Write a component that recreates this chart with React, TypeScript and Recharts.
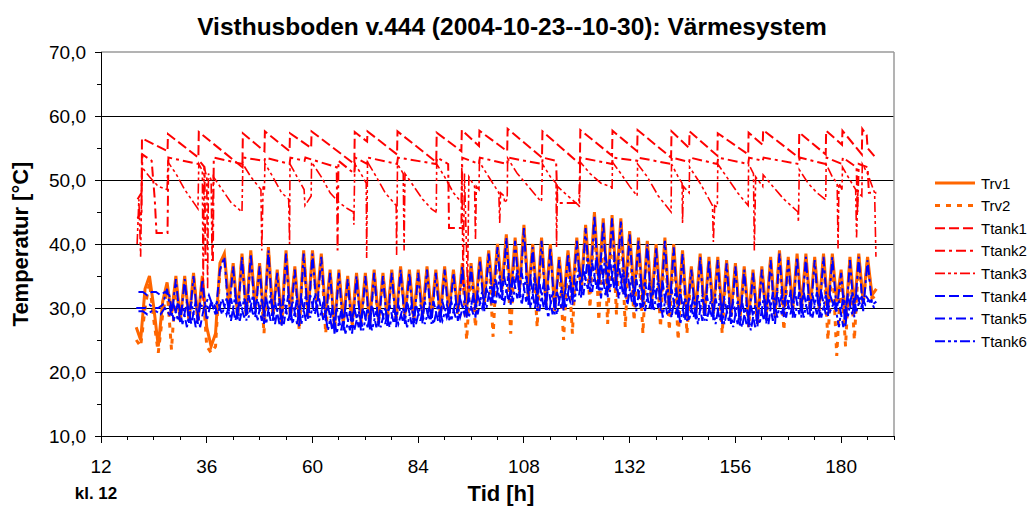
import React from 'react';
import { LineChart, Line, XAxis, YAxis, ReferenceLine } from 'recharts';

const FONT = '"Liberation Sans", Arial, Helvetica, sans-serif';

// ---------- axis ticks ----------
const X_TICKS = [12, 18, 24, 30, 36, 42, 48, 54, 60, 66, 72, 78, 84, 90, 96, 102, 108, 114, 120, 126, 132, 138, 144, 150, 156, 162, 168, 174, 180, 186, 192];
const X_LABELS = [12, 36, 60, 84, 108, 132, 156, 180];
const Y_TICKS = [10, 15, 20, 25, 30, 35, 40, 45, 50, 55, 60, 65, 70];
const Y_LABELS = [10, 20, 30, 40, 50, 60, 70];
const GRID_VALUES = [20, 30, 40, 50, 60];

// ---------- time categories (hours) ----------
const HOURS = [
  20, 21, 22, 23, 24, 25, 26, 27, 28, 29,
  30, 31, 32, 33, 34, 35, 36, 37, 38, 39,
  40, 41, 42, 43, 44, 45, 46, 47, 48, 49,
  50, 51, 52, 53, 54, 55, 56, 57, 58, 59,
  60, 61, 62, 63, 64, 65, 66, 67, 68, 69,
  70, 71, 72, 73, 74, 75, 76, 77, 78, 79,
  80, 81, 82, 83, 84, 85, 86, 87, 88, 89,
  90, 91, 92, 93, 94, 95, 96, 97, 98, 99,
  100, 101, 102, 103, 104, 105, 106, 107, 108, 109,
  110, 111, 112, 113, 114, 115, 116, 117, 118, 119,
  120, 121, 122, 123, 124, 125, 126, 127, 128, 129,
  130, 131, 132, 133, 134, 135, 136, 137, 138, 139,
  140, 141, 142, 143, 144, 145, 146, 147, 148, 149,
  150, 151, 152, 153, 154, 155, 156, 157, 158, 159,
  160, 161, 162, 163, 164, 165, 166, 167, 168, 169,
  170, 171, 172, 173, 174, 175, 176, 177, 178, 179,
  180, 181, 182, 183, 184, 185, 186, 187, 188,
];
const HALF_HOURS = [
  20.5, 21.5, 22.5, 23.5, 24.5, 25.5, 26.5, 27.5, 28.5, 29.5,
  30.5, 31.5, 32.5, 33.5, 34.5, 35.5, 36.5, 37.5, 38.5, 39.5,
  40.5, 41.5, 42.5, 43.5, 44.5, 45.5, 46.5, 47.5, 48.5, 49.5,
  50.5, 51.5, 52.5, 53.5, 54.5, 55.5, 56.5, 57.5, 58.5, 59.5,
  60.5, 61.5, 62.5, 63.5, 64.5, 65.5, 66.5, 67.5, 68.5, 69.5,
  70.5, 71.5, 72.5, 73.5, 74.5, 75.5, 76.5, 77.5, 78.5, 79.5,
  80.5, 81.5, 82.5, 83.5, 84.5, 85.5, 86.5, 87.5, 88.5, 89.5,
  90.5, 91.5, 92.5, 93.5, 94.5, 95.5, 96.5, 97.5, 98.5, 99.5,
  100.5, 101.5, 102.5, 103.5, 104.5, 105.5, 106.5, 107.5, 108.5, 109.5,
  110.5, 111.5, 112.5, 113.5, 114.5, 115.5, 116.5, 117.5, 118.5, 119.5,
  120.5, 121.5, 122.5, 123.5, 124.5, 125.5, 126.5, 127.5, 128.5, 129.5,
  130.5, 131.5, 132.5, 133.5, 134.5, 135.5, 136.5, 137.5, 138.5, 139.5,
  140.5, 141.5, 142.5, 143.5, 144.5, 145.5, 146.5, 147.5, 148.5, 149.5,
  150.5, 151.5, 152.5, 153.5, 154.5, 155.5, 156.5, 157.5, 158.5, 159.5,
  160.5, 161.5, 162.5, 163.5, 164.5, 165.5, 166.5, 167.5, 168.5, 169.5,
  170.5, 171.5, 172.5, 173.5, 174.5, 175.5, 176.5, 177.5, 178.5, 179.5,
  180.5, 181.5, 182.5, 183.5, 184.5, 185.5, 186.5, 187.5,
];

// ---------- series values ----------
const TRV1 = [
  27, 25, 33, 35, 30, 24, 31, 34, 29, 35,
  28, 35, 28, 35.5, 28, 35, 27, 24, 26, 37,
  38.5, 31, 37, 29, 38.5, 29, 39, 30, 37, 28,
  39.5, 29, 36, 28, 39, 29, 36.5, 28, 39, 29,
  39, 31, 38.5, 29, 36, 27, 36, 28, 35, 27.5,
  35.5, 28, 35.5, 28, 36, 28, 35.5, 28.5, 36, 28.5,
  36.5, 29, 36, 28.5, 36, 29, 36.5, 29, 36, 29,
  36.5, 29.5, 36, 29.5, 37, 30, 37, 30, 38, 31,
  39, 32, 40, 33, 41.5, 32, 41, 33, 43, 32,
  40, 31, 41, 31, 40, 30, 38, 31, 39, 32,
  41, 33, 43, 34, 45, 34, 44, 33, 44.5, 34,
  44, 33, 42, 32, 41, 31, 40.5, 31, 40, 31,
  41, 30, 40, 30, 39, 29, 36.5, 29.5, 38.5, 29,
  38, 29.5, 38, 29, 37.5, 29, 37, 28.5, 36.5, 28.5,
  36, 28, 36.5, 29, 38, 29, 39, 30, 38, 30,
  38.5, 30, 38.5, 30, 38, 30, 38.5, 30, 38.5, 31,
  36, 28, 38, 30, 38.5, 31, 38, 32, 33,
];
const TRV2 = [
  25, 24, 30, 34, 28, 23, 29, 33, 23.5, 34,
  28, 34.5, 28, 35, 28, 34.5, 24, 23, 24, 36,
  38, 30, 36.5, 28.5, 38, 28.5, 38.5, 29.5, 36.5, 26,
  39, 28.5, 35.5, 27.5, 38.5, 28.5, 36, 26.5, 38.5, 28.5,
  38.5, 30, 38, 26, 35.5, 26.5, 35.5, 27.5, 34.5, 27,
  35, 27.5, 35, 27.5, 35.5, 27.5, 35, 28, 35.5, 28,
  36, 28.5, 35.5, 28, 35.5, 28.5, 36, 28.5, 35.5, 28.5,
  36, 29, 35.5, 29, 36.5, 25, 36.5, 27, 37.5, 30.5,
  38.5, 25.5, 39.5, 32.5, 41, 26, 40.5, 32.5, 42.5, 31.5,
  39.5, 27, 40.5, 30.5, 39.5, 29.5, 37.5, 25, 38.5, 26,
  40.5, 32.5, 42.5, 30, 44.5, 28, 43.5, 27.5, 44, 29,
  43.5, 27, 41.5, 28, 40.5, 26, 40, 30.5, 39.5, 27,
  40.5, 26.5, 39.5, 25, 38.5, 26, 36, 29, 38, 28.5,
  37.5, 29, 37.5, 26, 37, 28.5, 36.5, 28, 36, 27,
  35.5, 27.5, 36, 28.5, 37.5, 28.5, 38.5, 26.5, 37.5, 29.5,
  38, 29.5, 38, 29.5, 37.5, 29.5, 38, 25, 38, 22.5,
  35.5, 24, 37.5, 25, 38, 30.5, 37.5, 31.5, 32,
];
const TTANK4 = [
  32.5, 32.5, 32, 32.5, 32.5, 32, 32.5, 32, 28, 31,
  27.5, 31, 27.5, 31, 27, 30.5, 30, 31, 29, 31.5,
  29, 31.5, 28, 31, 28.5, 32, 29, 31.5, 28, 31.5,
  28, 31, 27.5, 31.5, 28, 31, 27.5, 31.5, 28, 32,
  29, 31.5, 28, 30.5, 26.5, 30, 26.5, 30, 26.5, 30,
  27, 30, 27, 30.5, 27, 30, 27.5, 30.5, 27.5, 30.5,
  28, 31, 27.5, 30.5, 28, 31, 28, 31, 28, 31,
  28.5, 31, 28.5, 31.5, 29, 31.5, 29, 32, 30, 33,
  31, 34.5, 31.5, 35, 31, 35, 31.5, 35.5, 31, 34.5,
  30, 34, 30, 33.5, 29, 32.5, 30, 33, 31, 34,
  32, 36, 33, 37, 33, 37, 32, 37.5, 33, 37,
  32, 35.5, 31, 34.5, 30, 34, 30, 33.5, 30, 34,
  29, 33, 29, 32.5, 28, 31.5, 28.5, 32, 28, 32,
  28.5, 31.5, 28, 31.5, 28, 31, 27.5, 31, 27.5, 30.5,
  27, 31, 28, 32, 28, 32.5, 29, 32, 29, 32.5,
  29, 32.5, 29, 32, 29, 32.5, 29, 32, 30, 31,
  27, 32, 29, 32.5, 30, 32, 31, 31.5,
];
const TTANK5 = [
  30, 30, 30, 30.5, 30, 30, 30.5, 33, 28.5, 34.5,
  27.5, 34.5, 27.5, 35, 27.5, 34.5, 28, 31, 29, 36,
  38, 29, 36.5, 28, 38, 28, 38.5, 28.5, 36.5, 27.5,
  39, 28, 35.5, 27, 38.5, 28, 36, 27, 38.5, 28,
  38.5, 29.5, 38, 28, 35.5, 26, 35.5, 26.5, 34.5, 26,
  35, 26.5, 35, 26.5, 35.5, 27, 35, 27, 35.5, 27,
  36, 27.5, 35.5, 27, 35.5, 27.5, 36, 27.5, 35.5, 27.5,
  36, 28, 35.5, 28, 36.5, 28.5, 36.5, 28.5, 37.5, 29.5,
  38.5, 30.5, 39.5, 31, 41, 30.5, 40.5, 31.5, 42.5, 30.5,
  39.5, 29.5, 40.5, 29.5, 39.5, 29, 37.5, 29.5, 38.5, 30.5,
  40.5, 31.5, 42.5, 32.5, 44.5, 32.5, 43.5, 31.5, 44, 32.5,
  43.5, 31.5, 41.5, 30.5, 40.5, 30, 40, 29.5, 39.5, 29.5,
  40.5, 29, 39.5, 28.5, 38.5, 28, 36, 28, 38, 28,
  37.5, 28, 37.5, 27.5, 37, 27.5, 36.5, 27, 36, 27,
  35.5, 27, 36, 27.5, 37.5, 27.5, 38.5, 28.5, 37.5, 28.5,
  38, 28.5, 38, 28.5, 37.5, 28.5, 38, 28.5, 38, 29.5,
  35.5, 27, 37.5, 28.5, 38, 29.5, 37.5, 30.5, 31,
];
const TTANK6 = [
  29.5, 29.5, 29, 29.5, 29.5, 29, 30, 29, 30.5, 28,
  30.5, 27, 31, 27, 30.5, 30, 32, 30, 31, 29,
  31.5, 28, 32, 28, 31.5, 28.5, 32, 28, 31.5, 27.5,
  32, 27.5, 31.5, 27.5, 32, 27.5, 31.5, 27.5, 32, 28.5,
  32, 28, 31, 26.5, 30, 26, 29.5, 26, 29.5, 26.5,
  29.5, 26.5, 30, 26.5, 29.5, 27, 30, 27, 30, 27.5,
  30, 27, 30.5, 27.5, 30.5, 27.5, 30, 27.5, 30.5, 28,
  30.5, 28, 31, 28.5, 31, 28.5, 32, 29, 32.5, 30,
  34, 30.5, 35, 30.5, 35, 31, 36, 30.5, 35, 30,
  35, 29.5, 34, 28.5, 32.5, 29, 33, 30, 34.5, 31,
  36.5, 32, 38, 32.5, 38, 31.5, 38.5, 32.5, 37.5, 31.5,
  36, 30.5, 35, 29.5, 34.5, 29.5, 34, 29.5, 34.5, 28.5,
  33.5, 28.5, 33, 27.5, 31.5, 28, 32, 27.5, 32, 28,
  31.5, 27.5, 31.5, 27.5, 31, 27, 31, 27, 30.5, 26.5,
  30.5, 27.5, 32, 27.5, 32.5, 28.5, 32, 28.5, 32.5, 28.5,
  32.5, 28.5, 32, 28.5, 32.5, 28.5, 32, 29.5, 31, 27,
  32, 28.5, 32.5, 29.5, 32, 30.5, 31.5, 30,
];

// tank top: sawtooth [hour, °C]
const TTANK1: [number, number][] = [
  [20.3, 44], [21.2, 45], [21.3, 56.5], [27.1, 54.5], [27.2, 57.2], [34.1, 53.5], [34.2, 57.5],
  [44.1, 52], [44.2, 57.3], [49.1, 54.5], [49.2, 57.6], [54.8, 54.5], [54.9, 57.3], [59.7, 55],
  [59.8, 57.6], [69.5, 52.5], [69.6, 57.5], [72.4, 56], [72.5, 57.6], [79.2, 54], [79.3, 57.6],
  [88.1, 52.8], [88.2, 57.4], [93.8, 54.5], [93.9, 57.8], [97.8, 55.3], [97.9, 57.7], [104.2, 54.5],
  [104.3, 58], [112.1, 53.5], [112.2, 57.6], [120.7, 52.5], [120.8, 57.8], [128.0, 53.8], [128.1, 57.7],
  [133.7, 54.5], [133.8, 57.8], [141.4, 53.5], [141.5, 57.6], [145.5, 55], [145.6, 57.6], [151.9, 53.8],
  [152.0, 57.3], [158.9, 54], [159.0, 57.4], [162.2, 55.5], [162.3, 57.8], [170.4, 53.5], [170.5, 57.4],
  [176.5, 54], [176.6, 57.7], [180.2, 55.5], [180.3, 57.7], [184.7, 54], [184.8, 58], [185.8, 57],
  [186.0, 55], [187.2, 54], [187.8, 53.5],
];
// tank middle: nearly flat with draw-down steps
const TTANK2: [number, number][] = [
  [20.3, 47], [21.2, 48], [21.4, 54], [23.5, 53], [24.2, 47], [24.6, 41.7], [27.1, 41.7], [27.3, 53.5],
  [34.1, 52.5], [34.3, 53], [35.5, 52], [35.7, 37.5], [37.4, 37.5], [37.6, 53.5], [44.1, 52.5], [44.3, 53.5],
  [49.1, 53], [49.3, 53.5], [54.8, 52.5], [55.0, 53.5], [58.2, 53], [58.4, 53.5], [65.5, 52], [65.7, 39],
  [65.9, 53], [69.5, 51], [69.7, 53.5], [72.4, 52.5], [72.6, 53.5], [79.2, 52.5], [79.4, 53.5], [88.1, 52.5],
  [88.3, 53.5], [90.8, 52.5], [91.0, 42.5], [93.8, 42.5], [94.0, 53.5], [97.8, 52.5], [98.0, 53.5], [104.2, 52.5],
  [104.4, 53.5], [112.1, 52.5], [112.3, 53.5], [115.3, 53], [115.6, 46.4], [120.5, 46.4], [120.8, 53.5], [128.0, 52.5],
  [128.2, 53.5], [133.7, 53], [133.9, 53.5], [141.4, 52.5], [141.6, 53.5], [145.5, 52.8], [145.7, 53.5], [151.9, 52.5],
  [152.1, 53.5], [158.9, 52.5], [159.1, 53.5], [162.2, 53], [162.4, 53.5], [170.4, 52.5], [170.6, 53.5], [176.5, 52.5],
  [176.7, 53.5], [180.2, 52.5], [180.4, 53.5], [183.5, 52], [183.7, 45], [184.0, 52.5], [186.0, 52], [186.3, 48],
  [188.0, 48],
];
// tank lower: cooling curves with sharp dips
const TTANK3: [number, number][] = [
  [20.2, 40], [20.6, 47], [21.0, 38], [21.3, 52], [23, 50.5], [25, 49], [27.0, 48.5],
  [27.2, 52.8], [29, 51], [31, 48.5], [33, 46.5], [34.0, 45.5],
  [34.2, 52.5], [35.0, 51.5], [35.2, 31], [35.4, 52], [36.0, 50.5], [36.2, 33], [36.4, 51], [37.0, 50], [37.2, 38], [37.5, 50.5], [39.5, 48.5], [41.5, 46.5], [44.0, 45],
  [44.2, 52.5], [46, 50.5], [48.3, 48.5], [48.5, 39], [48.8, 49], [49.1, 48.5],
  [49.2, 52.6], [51, 50.5], [53, 48], [54.6, 47], [54.8, 40],
  [54.9, 52.5], [56.5, 50.5], [58.1, 48.5], [58.3, 46], [59.7, 47.5],
  [59.8, 52.8], [62, 50.5], [64, 48], [66, 46.5], [68, 45.5], [69.3, 45], [69.4, 43],
  [69.6, 52.5], [71, 51], [72.2, 49.5], [72.3, 37.8],
  [72.5, 52.8], [74.5, 50.5], [76.5, 48], [79.0, 46], [79.1, 38.3],
  [79.3, 52.5], [80.6, 51], [80.8, 39], [81, 51], [83, 49], [85, 47], [87, 45.5], [88.0, 45], [88.1, 45.3],
  [88.2, 52.5], [90, 50.5], [92, 48], [93.8, 46.5],
  [93.9, 52.5], [94.2, 32.8], [94.5, 51], [95.2, 33], [95.5, 50.5], [96.8, 49], [97.0, 40.6], [97.2, 49], [97.8, 48.5],
  [97.9, 52.8], [100, 50.5], [102.3, 48], [102.5, 43.3], [102.7, 48], [103.5, 47.5], [103.6, 46.4], [104.2, 47],
  [104.3, 53.4], [106.5, 51], [109, 49], [111.9, 46.6], [112.0, 46.9],
  [112.2, 52.5], [114, 50.5], [115.3, 49.5], [115.4, 39.5], [115.6, 49], [118, 47.5], [120.5, 46], [120.6, 45.8],
  [120.8, 52.8], [123, 51], [125.5, 49.5], [127.9, 48.9], [128.0, 48.4],
  [128.1, 52.8], [130, 51], [132, 49], [133.7, 47.5],
  [133.8, 52.5], [136, 50.5], [138.5, 47.5], [141.4, 45],
  [141.5, 52.5], [143, 50.5], [143.9, 49.5], [144.0, 43.3], [144.2, 49], [145.5, 48],
  [145.6, 52], [148, 49.5], [150.8, 46], [151.0, 40.3], [151.3, 46], [151.9, 45.8],
  [152.0, 52.5], [154, 50.5], [156.5, 48], [158.9, 46],
  [159.0, 52.5], [160.1, 51], [160.3, 39], [160.6, 50.5], [162.2, 49],
  [162.3, 50.8], [164.5, 49], [167, 47], [170.2, 45], [170.3, 43.4],
  [170.5, 51.6], [172.5, 49.5], [174.5, 48], [176.5, 46.9],
  [176.6, 52.5], [178, 50.5], [179.1, 49.5], [179.3, 39.3], [179.5, 49.5], [180.2, 48.5],
  [180.3, 52], [182, 50], [183.3, 48.5], [183.5, 41], [183.8, 48], [184.7, 47.5],
  [184.8, 52.5], [186, 51], [187.6, 48], [187.9, 38],
];

// ---------- build series ----------
const fromGrid = (times: number[], vals: number[]) => times.map((t, i) => ({ t, v: vals[i] }));
const fromPairs = (p: [number, number][]) => p.map(([t, v]) => ({ t, v }));

const SERIES = [
  { name: 'Trv1', data: fromGrid(HOURS, TRV1), color: '#FF6600', width: 3, dash: undefined },
  { name: 'Trv2', data: fromGrid(HOURS, TRV2), color: '#FF6600', width: 3, dash: '5 6' },
  { name: 'Ttank1', data: fromPairs(TTANK1), color: '#FF0000', width: 2, dash: '10 4' },
  { name: 'Ttank2', data: fromPairs(TTANK2), color: '#FF0000', width: 2, dash: '10 4 3 4' },
  { name: 'Ttank3', data: fromPairs(TTANK3), color: '#FF0000', width: 1.6, dash: '10 3 3 3 3 3' },
  { name: 'Ttank4', data: fromGrid(HALF_HOURS, TTANK4), color: '#0000FF', width: 2, dash: '10 4' },
  { name: 'Ttank5', data: fromGrid(HOURS, TTANK5), color: '#0000FF', width: 2, dash: '10 4 3 4' },
  { name: 'Ttank6', data: fromGrid(HALF_HOURS, TTANK6), color: '#0000FF', width: 2, dash: '10 3 3 3 3 3' },
];

const fmtY = (v: number) => v.toFixed(1).replace('.', ',');

const XTick = (props: any) => {
  const { x, y, payload } = props;
  const major = X_LABELS.includes(payload.value);
  return (
    <g>
      <line x1={x} x2={x} y1={y} y2={y + (major ? 7 : 4)} stroke="#000" strokeWidth={1} shapeRendering="crispEdges" />
      {major && (
        <text x={x} y={y + 37} textAnchor="middle" fontSize={19} fontFamily={FONT} fill="#000">
          {payload.value}
        </text>
      )}
    </g>
  );
};

const YTick = (props: any) => {
  const { x, y, payload } = props;
  const major = Y_LABELS.includes(payload.value);
  return (
    <g>
      <line x1={x - (major ? 6 : 4)} x2={x} y1={y} y2={y} stroke="#000" strokeWidth={1} shapeRendering="crispEdges" />
      {major && (
        <text x={x - 15} y={y + 7} textAnchor="end" fontSize={19} fontFamily={FONT} fill="#000">
          {fmtY(payload.value)}
        </text>
      )}
    </g>
  );
};

const LEGEND_TOP = 183;
const LEGEND_STEP = 22.6;

export default function App() {
  return (
    <div style={{ position: 'absolute', left: 0, top: 0, width: 1034, height: 507, background: '#fff', fontFamily: FONT }}>
      <LineChart width={1034} height={507} margin={{ top: 52, right: 140, bottom: 31, left: 41 }}>
        <XAxis
          dataKey="t"
          type="number"
          domain={[12, 192]}
          ticks={X_TICKS}
          interval={0}
          height={40}
          axisLine={{ stroke: '#000', strokeWidth: 1, shapeRendering: 'crispEdges' }}
          tickLine={false}
          tickSize={0}
          tickMargin={0}
          tick={XTick}
          allowDataOverflow
        />
        <YAxis
          type="number"
          domain={[10, 70]}
          ticks={Y_TICKS}
          interval={0}
          width={60}
          axisLine={{ stroke: '#000', strokeWidth: 1, shapeRendering: 'crispEdges' }}
          tickLine={false}
          tickSize={0}
          tickMargin={0}
          tick={YTick}
          allowDataOverflow
        />
        {GRID_VALUES.map((v) => (
          <ReferenceLine key={v} y={v} stroke="#000" strokeWidth={1} shapeRendering="crispEdges" />
        ))}
        <ReferenceLine y={70} stroke="#9a9a9a" strokeWidth={1.5} />
        <ReferenceLine x={192} stroke="#9a9a9a" strokeWidth={1.5} />
        {SERIES.map((s) => (
          <Line
            key={s.name}
            data={s.data}
            dataKey="v"
            name={s.name}
            type="linear"
            stroke={s.color}
            strokeWidth={s.width}
            strokeDasharray={s.dash}
            dot={false}
            activeDot={false}
            isAnimationActive={false}
            connectNulls
          />
        ))}
      </LineChart>
      <svg
        width={1034}
        height={507}
        style={{ position: 'absolute', left: 0, top: 0, pointerEvents: 'none' }}
        fontFamily={FONT}
      >
        <text x={512} y={35} textAnchor="middle" fontSize={24.5} fontWeight="bold" fill="#000">
          Visthusboden v.444 (2004-10-23--10-30): Värmesystem
        </text>
        <text
          x={28}
          y={244}
          transform="rotate(-90 28 244)"
          textAnchor="middle"
          fontSize={22}
          fontWeight="bold"
          fill="#000"
        >
          Temperatur [°C]
        </text>
        <text x={501} y={501} textAnchor="middle" fontSize={22} fontWeight="bold" fill="#000">
          Tid [h]
        </text>
        <text x={96} y={499} textAnchor="middle" fontSize={17} fontWeight="bold" fill="#000">
          kl. 12
        </text>
        {SERIES.map((s, i) => {
          const y = LEGEND_TOP + i * LEGEND_STEP;
          return (
            <g key={s.name}>
              <line x1={935} x2={975} y1={y} y2={y} stroke={s.color} strokeWidth={s.width} strokeDasharray={s.dash} />
              <text x={981} y={y + 5.5} fontSize={15} fill="#000">
                {s.name}
              </text>
            </g>
          );
        })}
      </svg>
    </div>
  );
}
